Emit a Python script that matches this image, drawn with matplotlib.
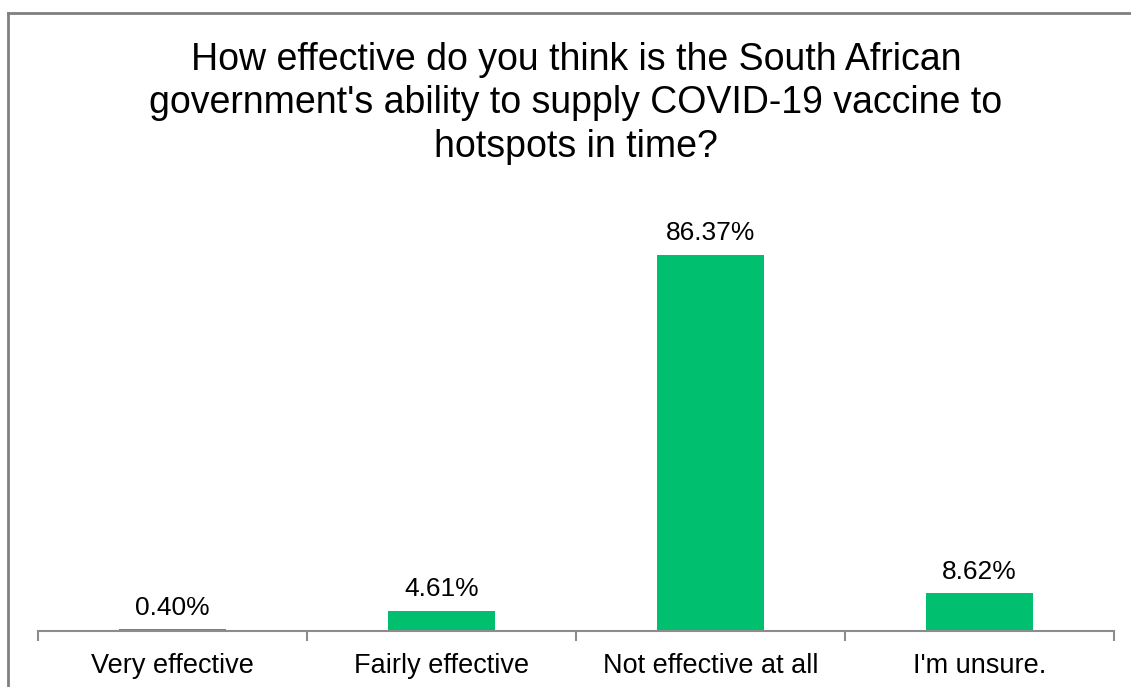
import matplotlib.pyplot as plt
from matplotlib.lines import Line2D
import numpy as np

plt.rcParams['font.family'] = ['Liberation Sans', 'DejaVu Sans']

categories = ['Very effective', 'Fairly effective', 'Not effective at all', "I'm unsure."]
shares = [0.40, 4.61, 86.37, 8.62]
title = ("How effective do you think is the South African\n"
         "government's ability to supply COVID-19 vaccine to\n"
         "hotspots in time?")

bar_color = '#00BF6F'
axis_color = '#8C8C8C'

fig = plt.figure(figsize=(11.31, 6.87), dpi=100)
ax = fig.add_axes([0.0336, 0.0815, 0.9514, 0.6336])

x = np.arange(len(categories))
bars = ax.bar(x, shares, width=0.4, color=bar_color)

for rect, val in zip(bars, shares):
    ax.annotate(f'{val:.2f}%', (rect.get_x() + rect.get_width() / 2, rect.get_height()),
                xytext=(0, 7), textcoords='offset points',
                ha='center', va='bottom', fontsize=19)

ax.set_xlim(-0.5, len(categories) - 0.5)
ax.set_ylim(0, 100)

# category names centred under bars, tick marks on the boundaries between them
ax.set_xticks(x)
ax.set_xticklabels(categories, fontsize=19.5)
ax.tick_params(axis='x', which='major', length=0, pad=16)
ax.set_xticks(np.arange(len(categories) + 1) - 0.5, minor=True)
ax.tick_params(axis='x', which='minor', length=7, width=1.5, color=axis_color)
ax.set_yticks([])

for side in ['top', 'right', 'left']:
    ax.spines[side].set_visible(False)
ax.spines['bottom'].set_color(axis_color)
ax.spines['bottom'].set_linewidth(1.5)

ax.set_title(title, fontsize=27, pad=28, linespacing=1.27)

# chart frame (top and left edges)
fig.add_artist(Line2D([8 / 1131, 1], [1 - 13 / 687, 1 - 13 / 687], color='#808080', lw=2))
fig.add_artist(Line2D([8 / 1131, 8 / 1131], [0, 1 - 13 / 687], color='#808080', lw=2))

fig.savefig('out.png', dpi=100)
